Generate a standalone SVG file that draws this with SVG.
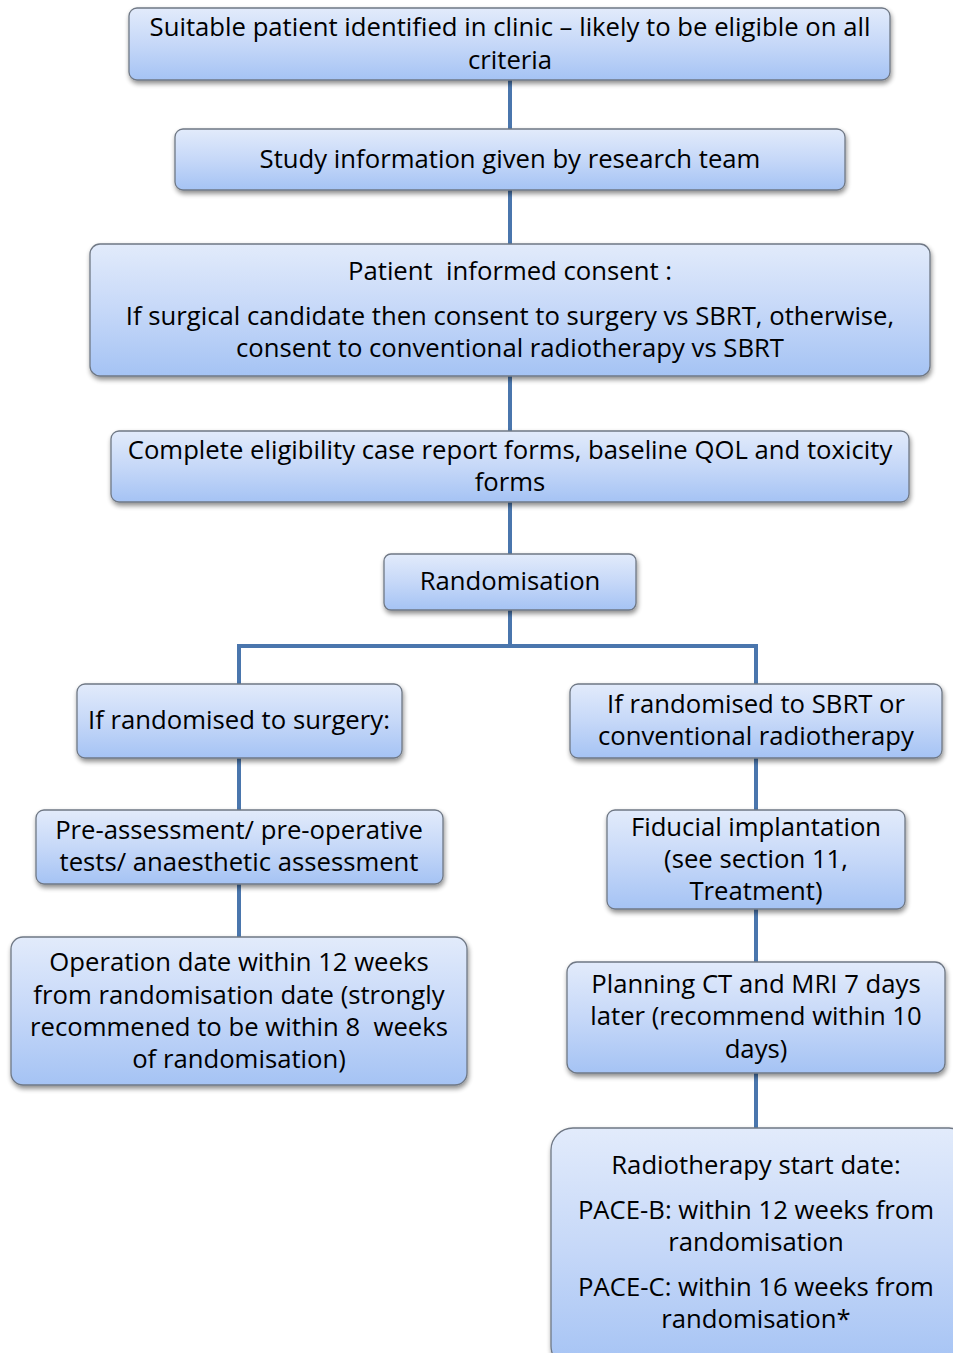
<svg xmlns="http://www.w3.org/2000/svg" width="953" height="1353" viewBox="0 0 953 1353">
<defs>
<linearGradient id="g" x1="0" y1="0" x2="0" y2="1">
<stop offset="0" stop-color="#e2ebfb"/>
<stop offset="0.5" stop-color="#c6d8f8"/>
<stop offset="1" stop-color="#a5c3f4"/>
</linearGradient>
<filter id="sh" x="-5%" y="-10%" width="110%" height="130%">
<feGaussianBlur in="SourceAlpha" stdDeviation="2.5"/>
<feOffset dx="1" dy="3" result="b"/>
<feComponentTransfer><feFuncA type="linear" slope="0.45"/></feComponentTransfer>
<feMerge><feMergeNode/><feMergeNode in="SourceGraphic"/></feMerge>
</filter>
</defs>
<style>
.box{fill:url(#g);stroke:#6f7885;stroke-width:1.3;filter:url(#sh)}
.t{font-family:"Open Sans","Liberation Sans",sans-serif;font-size:25.7px;fill:#000;text-anchor:middle;white-space:pre}
.c{stroke:#4a76ad;stroke-width:4;fill:none}
</style>
<rect width="953" height="1353" fill="#fff"/>
<g id="connectors">
<line class="c" x1="510" y1="80" x2="510" y2="129"/>
<line class="c" x1="510" y1="190" x2="510" y2="244"/>
<line class="c" x1="510" y1="376" x2="510" y2="431"/>
<line class="c" x1="510" y1="502" x2="510" y2="554"/>
<polyline class="c" points="510,610 510,646"/>
<polyline class="c" points="239,684 239,646 756,646 756,684"/>
<line class="c" x1="239" y1="758" x2="239" y2="810"/>
<line class="c" x1="239" y1="884" x2="239" y2="937"/>
<line class="c" x1="756" y1="758" x2="756" y2="810"/>
<line class="c" x1="756" y1="909" x2="756" y2="962"/>
<line class="c" x1="756" y1="1073" x2="756" y2="1128"/>
</g>
<g id="n1"><rect class="box" x="129" y="8" width="761" height="72" rx="8"/>
<text class="t" x="510" y="36">Suitable patient identified in clinic – likely to be eligible on all</text>
<text class="t" x="510" y="69">criteria</text></g>
<g id="n2"><rect class="box" x="175" y="129" width="670" height="61" rx="8"/>
<text class="t" x="510" y="168">Study information given by research team</text></g>
<g id="n3"><rect class="box" x="90" y="244" width="840" height="132" rx="10"/>
<text class="t" x="510" y="280">Patient  informed consent :</text>
<text class="t" x="510" y="325">If surgical candidate then consent to surgery vs SBRT, otherwise,</text>
<text class="t" x="510" y="357">consent to conventional radiotherapy vs SBRT</text></g>
<g id="n4"><rect class="box" x="111" y="431" width="798" height="71" rx="8"/>
<text class="t" x="510" y="459">Complete eligibility case report forms, baseline QOL and toxicity</text>
<text class="t" x="510" y="491">forms</text></g>
<g id="n5"><rect class="box" x="384" y="554" width="252" height="56" rx="7"/>
<text class="t" x="510" y="590">Randomisation</text></g>
<g id="n6"><rect class="box" x="77" y="684" width="325" height="74" rx="8"/>
<text class="t" x="239" y="729">If randomised to surgery:</text></g>
<g id="n7"><rect class="box" x="570" y="684" width="372" height="74" rx="8"/>
<text class="t" x="756" y="713">If randomised to SBRT or</text>
<text class="t" x="756" y="745">conventional radiotherapy</text></g>
<g id="n8"><rect class="box" x="36" y="810" width="407" height="74" rx="8"/>
<text class="t" x="239" y="839">Pre-assessment/ pre-operative</text>
<text class="t" x="239" y="871">tests/ anaesthetic assessment</text></g>
<g id="n9"><rect class="box" x="607" y="810" width="298" height="99" rx="8"/>
<text class="t" x="756" y="836">Fiducial implantation</text>
<text class="t" x="756" y="868">(see section 11,</text>
<text class="t" x="756" y="900">Treatment)</text></g>
<g id="n10"><rect class="box" x="11" y="937" width="456" height="148" rx="12"/>
<text class="t" x="239" y="971">Operation date within 12 weeks</text>
<text class="t" x="239" y="1004">from randomisation date (strongly</text>
<text class="t" x="239" y="1036">recommened to be within 8  weeks</text>
<text class="t" x="239" y="1068">of randomisation)</text></g>
<g id="n11"><rect class="box" x="567" y="962" width="378" height="111" rx="10"/>
<text class="t" x="756" y="993">Planning CT and MRI 7 days</text>
<text class="t" x="756" y="1025">later (recommend within 10</text>
<text class="t" x="756" y="1058">days)</text></g>
<g id="n12"><rect class="box" x="551" y="1128" width="420" height="240" rx="22"/>
<text class="t" x="756" y="1174">Radiotherapy start date:</text>
<text class="t" x="756" y="1219">PACE-B: within 12 weeks from</text>
<text class="t" x="756" y="1251">randomisation</text>
<text class="t" x="756" y="1296">PACE-C: within 16 weeks from</text>
<text class="t" x="756" y="1328">randomisation*</text></g>
</svg>
